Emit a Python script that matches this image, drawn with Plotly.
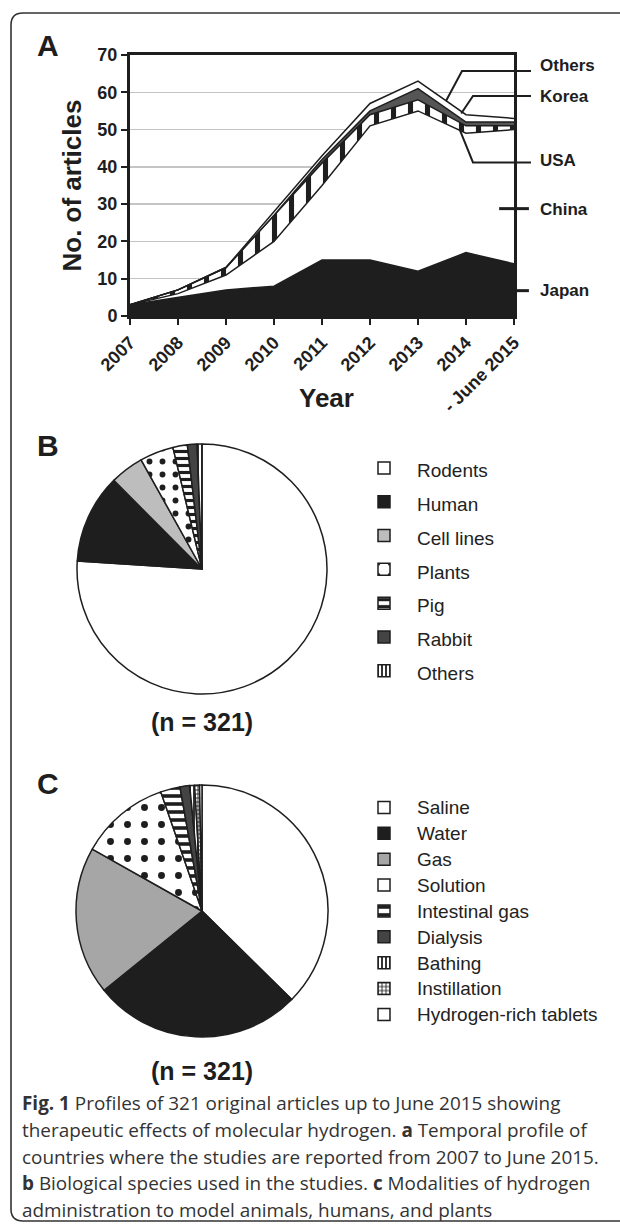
import plotly.graph_objects as go

# ---------------- data ----------------
years = ["2007", "2008", "2009", "2010", "2011", "2012", "2013", "2014", "- June 2015"]
japan = [3, 5, 7, 8, 15, 15, 12, 17, 14]
china = [0, 1, 4, 12, 20, 36, 43, 32, 36]
usa = [0, 1, 2, 7, 6, 3, 3, 2, 1]
korea = [0, 0, 0, 0, 1, 1, 3, 1, 1]
others = [0, 0, 0, 1, 1, 2, 2, 2, 1]
country_names = ["Japan", "China", "USA", "Korea", "Others"]

species = ["Rodents", "Human", "Cell lines", "Plants", "Pig", "Rabbit", "Others"]
species_n = [244, 37, 14, 14, 6, 4, 2]

modalities = ["Saline", "Water", "Gas", "Solution", "Intestinal gas", "Dialysis",
              "Bathing", "Instillation", "Hydrogen-rich tablets"]
modalities_n = [120, 86, 61, 37, 8, 4, 2, 2, 1]

W, H = 620, 1226
INK = "#1e1e1e"
SANS = "Arial, Liberation Sans, sans-serif"


def px_x(p):
    return p / W


def px_y(p):
    return 1 - p / H


fig = go.Figure()

# ---------------- panel A: stacked area ----------------
xi = list(range(len(years)))
styles = {
    "Japan": dict(fillcolor=INK),
    "China": dict(fillcolor="white"),
    "USA": dict(fillcolor="white",
                fillpattern=dict(shape="|", size=17, solidity=0.3, fgcolor=INK,
                                 bgcolor="white", fillmode="replace")),
    "Korea": dict(fillcolor="#555555"),
    "Others": dict(fillcolor="white"),
}
for name, vals in zip(country_names, [japan, china, usa, korea, others]):
    fig.add_trace(go.Scatter(
        x=xi, y=vals, name=name, stackgroup="countries", mode="lines",
        line=dict(color=INK, width=1.5), showlegend=False, hoverinfo="skip",
        **styles[name]))

fig.update_xaxes(
    domain=[px_x(130), px_x(514)], range=[0, len(years) - 1],
    tickmode="array", tickvals=xi, ticktext=years, tickangle=-45,
    tickfont=dict(family=SANS, size=18, color=INK, weight="bold"),
    showline=True, linecolor=INK, linewidth=3, mirror=True,
    ticks="outside", ticklen=6, tickwidth=2, tickcolor=INK,
    showgrid=False, zeroline=False, fixedrange=True)
fig.update_yaxes(
    domain=[px_y(316), px_y(55)], range=[0, 70], dtick=10,
    tickfont=dict(family=SANS, size=18, color=INK, weight="bold"),
    showline=True, linecolor=INK, linewidth=3, mirror=True,
    ticks="outside", ticklen=6, tickwidth=2, tickcolor=INK,
    showgrid=True, gridcolor="#c4c4c4", gridwidth=1.3, zeroline=False,
    fixedrange=True)


# ---------------- panel B: species pie ----------------
def span(labels, size):
    return [f'<span style="font-size:{size}px">{t}</span>' for t in labels]


fig.add_trace(go.Pie(
    labels=span(species, 19), values=species_n, sort=False, direction="clockwise",
    rotation=0, textinfo="none", hoverinfo="label+value", legend="legend",
    domain=dict(x=[px_x(77), px_x(327)], y=[px_y(694), px_y(444)]),
    marker=dict(
        colors=["white", INK, "#bdbdbd", "white", "white", "#444444", "white"],
        line=dict(color=INK, width=1.5),
        pattern=dict(
            shape=["", "", "", ".", "-", "", "|"],
            size=[8, 8, 8, 13, 7, 8, 4],
            solidity=[0.3, 0.3, 0.3, 0.16, 0.45, 0.3, 0.45],
            fgcolor=[INK] * 7,
            bgcolor=["white", INK, "#bdbdbd", "white", "white", "#444444", "white"],
            fillmode="replace"))))

# ---------------- panel C: modality pie ----------------
fig.add_trace(go.Pie(
    labels=span(modalities, 19), values=modalities_n, sort=False, direction="clockwise",
    rotation=0, textinfo="none", hoverinfo="label+value", legend="legend2",
    domain=dict(x=[px_x(76), px_x(328)], y=[px_y(1037), px_y(785)]),
    marker=dict(
        colors=["white", INK, "#a6a6a6", "white", "white", "#444444", "white", "white", "white"],
        line=dict(color=INK, width=1.5),
        pattern=dict(
            shape=["", "", "", ".", "-", "", "|", "+", "+"],
            size=[8, 8, 8, 17, 8, 8, 4, 4, 12],
            solidity=[0.3, 0.3, 0.3, 0.13, 0.45, 0.3, 0.45, 0.4, 0.03],
            fgcolor=[INK] * 9,
            bgcolor=["white", INK, "#a6a6a6", "white", "white", "#444444", "white", "white", "white"],
            fillmode="replace"))))

legend_common = dict(xanchor="left", yanchor="top", itemwidth=56,
                     bgcolor="rgba(0,0,0,0)", traceorder="normal",
                     itemclick=False, itemdoubleclick=False)
fig.update_layout(
    legend=dict(x=px_x(351), y=px_y(446),
                font=dict(family=SANS, size=23.7, color="#222222"),
                **legend_common),
    legend2=dict(x=px_x(351), y=px_y(789.5),
                 font=dict(family=SANS, size=17.6, color="#222222"),
                 **legend_common),
)

# ---------------- annotations ----------------
ann = []
bold_big = dict(family=SANS, size=26, color=INK, weight="bold")
ann.append(dict(text="No. of articles", x=px_x(71), y=(px_y(316) + px_y(55)) / 2,
                xref="paper", yref="paper", xanchor="center", yanchor="middle",
                showarrow=False, textangle=-90, font=bold_big))
ann.append(dict(text="Year", x=px_x(326), y=px_y(398), xref="paper", yref="paper",
                xanchor="center", yanchor="middle", showarrow=False, font=bold_big))

nx = len(years) - 1


def dx(v):
    return v / nx


def dy(v):
    return v / 70


label_pos = {"Others": 67.3, "Korea": 59.0, "USA": 41.8, "China": 28.5, "Japan": 6.8}
for name in country_names[::-1]:
    ann.append(dict(text=name, x=dx(8.5), y=dy(label_pos[name]), xref="x domain",
                    yref="y domain", xanchor="left", yanchor="middle", showarrow=False,
                    font=dict(family=SANS, size=17, color=INK, weight="bold")))

for letter, cy in [("A", 46), ("B", 445), ("C", 783)]:
    ann.append(dict(text=letter, x=px_x(48), y=px_y(cy), xref="paper", yref="paper",
                    xanchor="center", yanchor="middle", showarrow=False,
                    font=dict(family=SANS, size=30, color=INK, weight="bold")))

for cy in [722, 1071]:
    ann.append(dict(text="(n = 321)", x=px_x(202), y=px_y(cy), xref="paper", yref="paper",
                    xanchor="center", yanchor="middle", showarrow=False,
                    font=dict(family=SANS, size=25, color=INK, weight="bold")))

caption = [
    "<b>Fig. 1</b> Profiles of 321 original articles up to June 2015 showing",
    "therapeutic effects of molecular hydrogen. <b>a</b> Temporal profile of",
    "countries where the studies are reported from 2007 to June 2015.",
    "<b>b</b> Biological species used in the studies. <b>c</b> Modalities of hydrogen",
    "administration to model animals, humans, and plants",
]
for i, line in enumerate(caption):
    ann.append(dict(text=line, x=px_x(20), y=px_y(1103 + i * 26.8), xref="paper",
                    yref="paper", xanchor="left", yanchor="middle", showarrow=False,
                    font=dict(family="Open Sans", size=18.9, color="#333333")))

# ---------------- shapes: leader lines + frame ----------------
shapes = []
leaders = [
    [(8.354, 65.7), (6.917, 65.7), (6.58, 57.6)],   # Others
    [(8.354, 59.0), (7.146, 59.0), (6.90, 54.3)],   # Korea
    [(8.354, 41.2), (7.146, 41.2), (6.875, 49.8)],  # USA
    [(7.69, 28.8), (8.31, 28.8)],                   # China
    [(8.0, 6.8), (8.31, 6.8)],                      # Japan
]
for pts in leaders:
    path = "M " + " L ".join(f"{dx(a):.4f},{dy(b):.4f}" for a, b in pts)
    shapes.append(dict(type="path", path=path, xref="x domain", yref="y domain",
                       line=dict(color=INK, width=2 if len(pts) > 2 else 3)))

r = 12
x0, y0, y1 = 11, 13, 1221
fx0, fy0, fy1 = px_x(x0), px_y(y0), px_y(y1)
frame = (f"M 1.05,{fy0} L {px_x(x0 + r)},{fy0} "
         f"Q {fx0},{fy0} {fx0},{px_y(y0 + r)} "
         f"L {fx0},{px_y(y1 - r)} Q {fx0},{fy1} {px_x(x0 + r)},{fy1} L 1.05,{fy1}")
shapes.append(dict(type="path", path=frame, xref="paper", yref="paper",
                   line=dict(color="#333333", width=1.6)))

fig.update_layout(
    width=W, height=H, margin=dict(l=0, r=0, t=0, b=0, autoexpand=False),
    paper_bgcolor="white", plot_bgcolor="white",
    annotations=ann, shapes=shapes, hovermode=False,
)

fig.write_html("out.html", config={"displayModeBar": False, "staticPlot": True},
               post_script="document.body.style.margin='0';")
